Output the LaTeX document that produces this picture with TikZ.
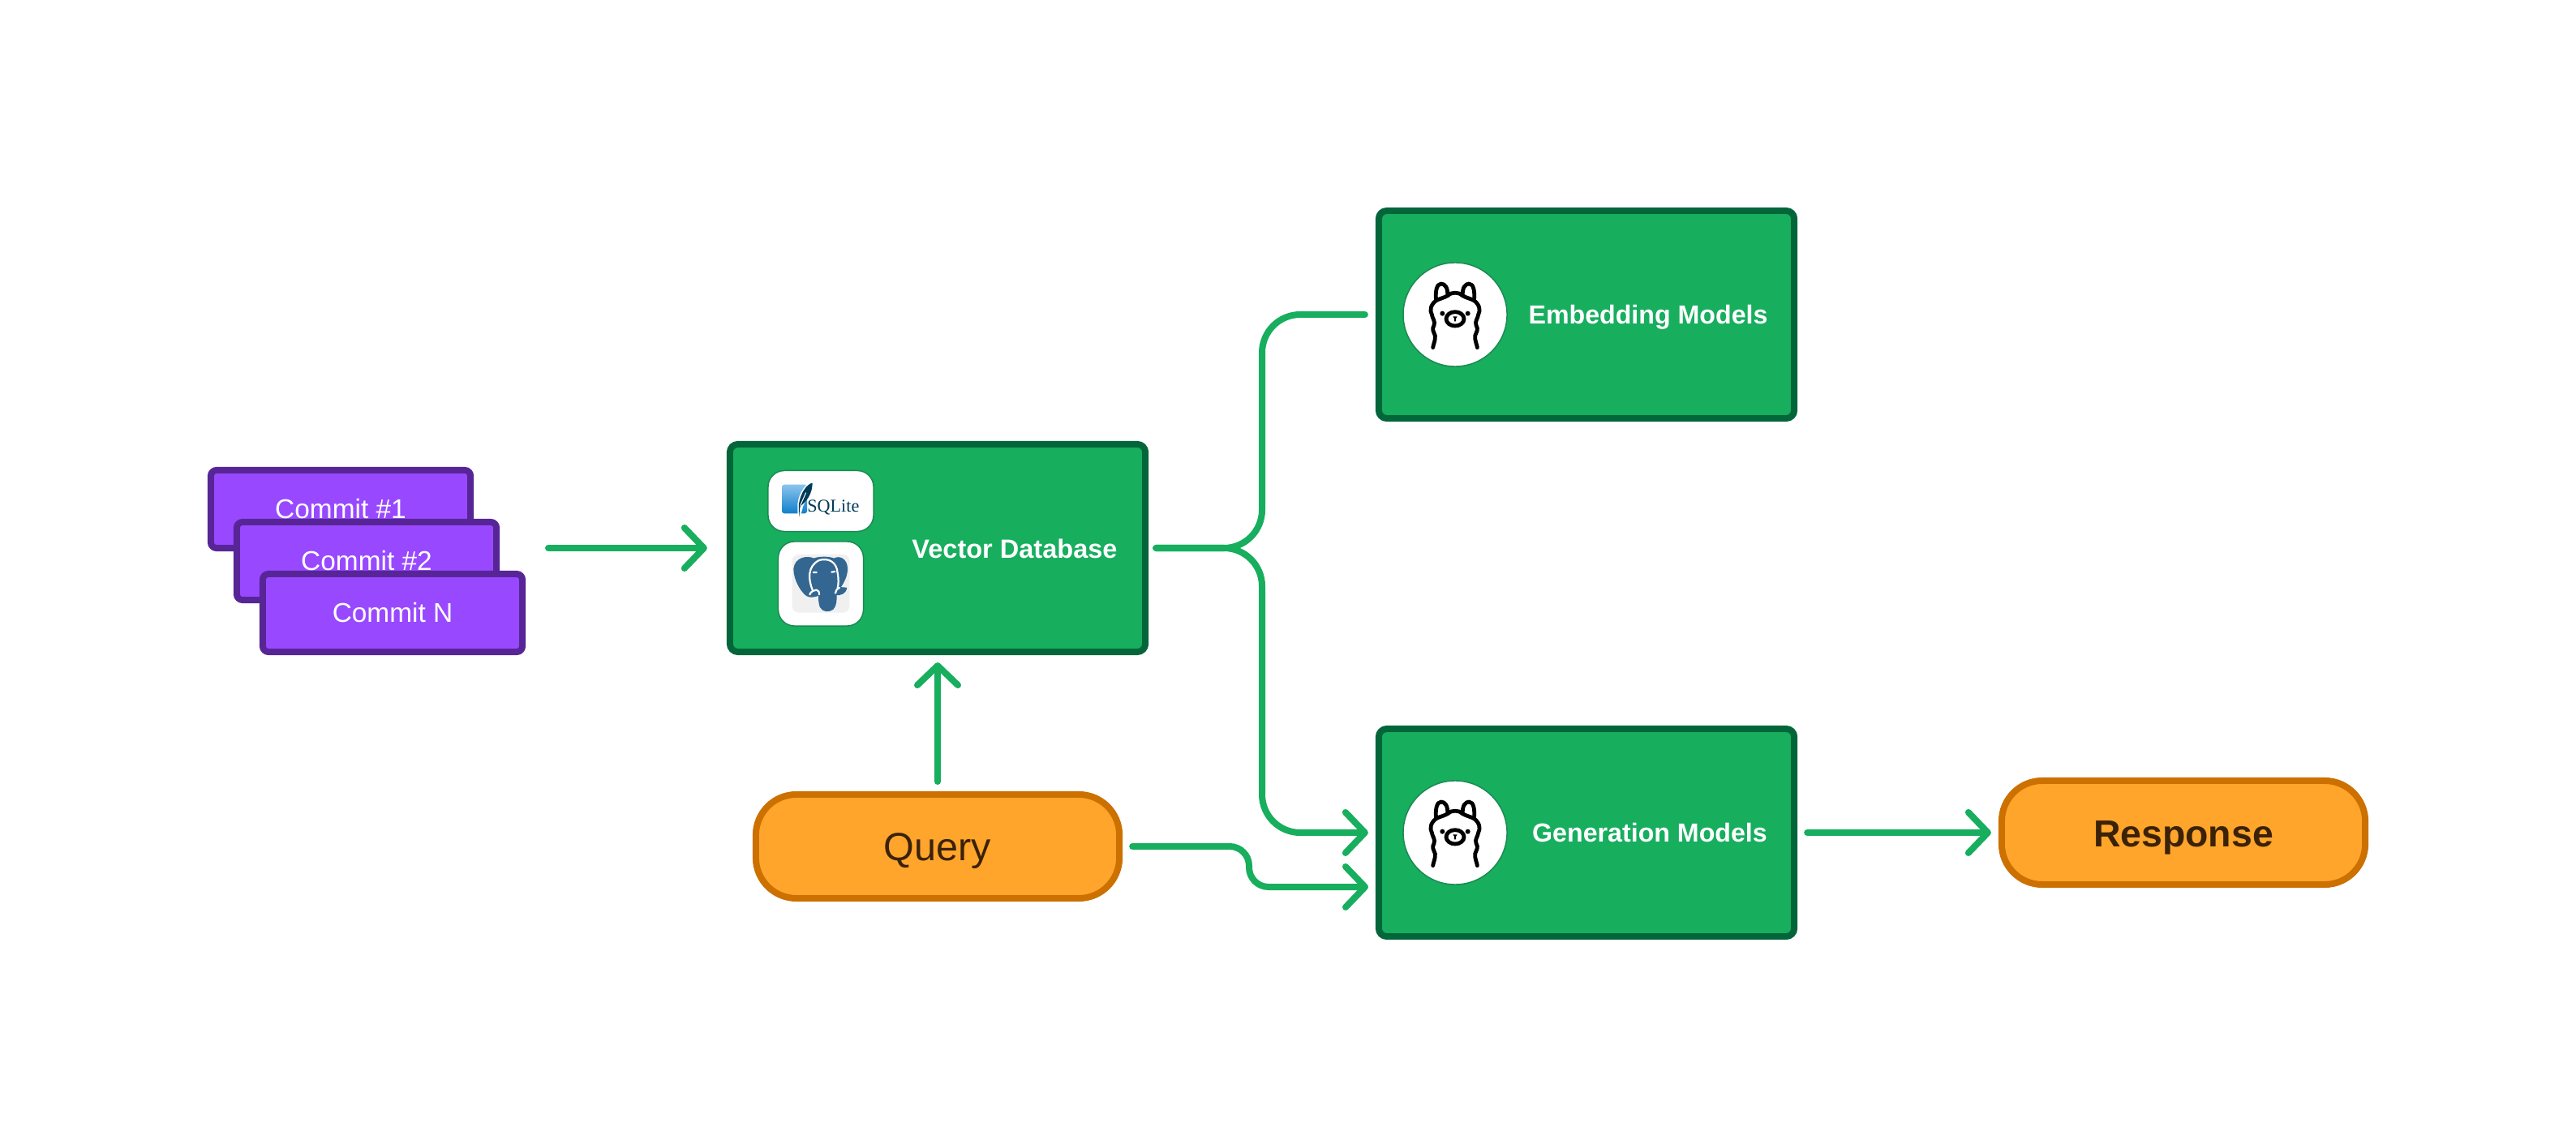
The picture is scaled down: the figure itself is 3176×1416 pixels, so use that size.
\documentclass[tikz,border=0pt]{standalone}
\usepackage{fontspec}
\setmainfont{Liberation Sans}
\newfontfamily\logofont{Liberation Serif}
\usetikzlibrary{arrows.meta}
\definecolor{flowgreen}{HTML}{17AE5E}
\definecolor{boxgreen}{HTML}{17AE5E}
\definecolor{edgegreen}{HTML}{03663A}
\definecolor{logoedge}{HTML}{1C8A52}
\definecolor{commitfill}{HTML}{9849FF}
\definecolor{commitedge}{HTML}{582597}
\definecolor{pillfill}{HTML}{FFA52B}
\definecolor{pilledge}{HTML}{CC7000}
\definecolor{pilltext}{HTML}{3B2207}
\definecolor{sqlnavy}{HTML}{003B57}
\definecolor{sqltop}{HTML}{8CC4EE}
\definecolor{sqlbot}{HTML}{0F80CC}
\definecolor{pgblue}{HTML}{336791}
\tikzset{
  commit/.style={draw=commitedge,fill=commitfill,line width=0.08cm,rounded corners=0.07cm,
    minimum width=3.20cm,minimum height=0.96cm,text=white,text height=6.8pt,text depth=0pt,
    font=\fontsize{9.5pt}{11pt}\selectfont},
  store/.style={draw=edgegreen,fill=boxgreen,line width=0.08cm,rounded corners=0.1cm,
    minimum width=5.12cm,minimum height=2.56cm},
  boxlabel/.style={text=white,text height=6.8pt,text depth=0pt,inner sep=0pt,
    font=\fontsize{9.15pt}{11pt}\selectfont\bfseries},
  pill/.style={draw=pilledge,fill=pillfill,line width=0.08cm,rounded corners=0.5cm,
    minimum width=4.48cm,minimum height=1.28cm,text=pilltext,text height=10pt,text depth=0pt},
  logobox/.style={draw=logoedge,fill=white,line width=0.015cm,rounded corners=0.2cm},
  flow/.style={draw=flowgreen,line width=0.08cm,line cap=round,shorten <=0.12cm,shorten >=0.09cm},
  llama/.pic={
    \begin{scope}[scale=1/3,line width=0.048cm,line cap=round,line join=round]
    \foreach \s in {1,-1} {
      \draw[xscale=\s] (-28,-70) .. controls (-26,-100) and (-38,-114) .. (-52,-114)
        .. controls (-68,-114) and (-74,-85) .. (-70,-52)
        .. controls (-92,-35) and (-94,-15) .. (-86,0)
        .. controls (-84,15) and (-72,25) .. (-78,40)
        .. controls (-88,55) and (-78,65) .. (-74,78)
        .. controls (-72,95) and (-80,108) .. (-82,122);
      \draw[xscale=\s] (-70,-52) .. controls (-55,-60) and (-40,-62) .. (-28,-70);
      \fill[xscale=\s] (-47,-4) circle (9);
    }
    \draw (-28,-70) .. controls (-15,-84) and (15,-84) .. (28,-70);
    \draw (0,16) ellipse (33 and 26);
    \fill (-8,7) -- (8,7) -- (3,15) -- (3,25) -- (-3,25) -- (-3,15) -- cycle;
    \end{scope}
  }
}
\begin{document}
\begin{tikzpicture}[x=0.01cm,y=-0.01cm,>={Straight Barb[length=0.24cm,width=0.5cm,round]}]
\useasboundingbox (0,0) rectangle (3176,1416);
\node [commit] (commit1) at (420,628) {Commit \#1};
\node [commit] (commit2) at (452,692) {Commit \#2};
\node [commit] (commitN) at (484,756) {Commit N};
\node [store] (vdb) at (1156,676) {};
\node [store] (emb) at (1956,388) {};
\node [store] (gen) at (1956,1027) {};
\node [pill,font=\fontsize{13.8pt}{16pt}\selectfont] (query) at (1156,1044) {Query};
\node [pill,font=\fontsize{13.2pt}{16pt}\selectfont\bfseries] (resp) at (2692,1027) {Response};
\node [boxlabel,font=\fontsize{9.25pt}{11pt}\selectfont\bfseries] (vdblabel) at (1251,677) {Vector Database};
\node [boxlabel] (emblabel) at (2032,388) {Embedding Models};
\node [boxlabel] (genlabel) at (2034,1027) {Generation Models};
\node [logobox,minimum width=1.30cm,minimum height=0.75cm] (sqlbox) at (1012,618) {};
\node [logobox,minimum width=1.05cm,minimum height=1.04cm] (pgbox) at (1012,720) {};
\node [circle,draw=logoedge,fill=white,line width=0.015cm,minimum size=1.28cm] (embicon) at (1794,388) {};
\node [circle,draw=logoedge,fill=white,line width=0.015cm,minimum size=1.28cm] (genicon) at (1794,1027) {};
\pic at (embicon) {llama};
\pic at (genicon) {llama};
\begin{scope}[shift={(950,575)},scale=1/3]
\shade [top color=sqltop,bottom color=sqlbot,rounded corners=0.03cm]
  (42,68) rectangle (135,175);
\fill [white] (158,58) .. controls (130,60) and (104,100) .. (100,140) -- (100,180) -- (112,180) -- (120,150) -- cycle;
\fill [sqlnavy] (155,62) .. controls (135,65) and (110,100) .. (105,140)
  .. controls (104,160) and (104,175) .. (107,188) .. controls (107,170) and (107,160) .. (110,148)
  .. controls (135,130) and (155,100) .. (155,62) -- cycle;
\draw [white,line width=0.01cm] (131,98) -- (110,146);
\node [text=sqlnavy,inner sep=0pt,font=\logofont\fontsize{6.3pt}{7pt}\selectfont] (sqltext) at (232,153) {SQLite};
\end{scope}
\begin{scope}[shift={(960,665)},scale=1/3]
\fill [gray!12,rounded corners=0.08cm] (50,57) rectangle (262,272);
\filldraw [fill=pgblue,draw=pgblue,line width=0.02cm,line join=round]
  (58,110) .. controls (62,70) and (105,62) .. (130,74) .. controls (150,66) and (185,66) .. (205,74)
  .. controls (225,62) and (252,75) .. (252,110) .. controls (252,135) and (240,160) .. (225,180)
  -- (250,182) .. controls (245,200) and (230,205) .. (212,205) .. controls (212,225) and (212,245) .. (200,258)
  .. controls (185,268) and (165,268) .. (155,250) .. controls (150,235) and (150,220) .. (150,205)
  .. controls (135,212) and (115,215) .. (105,208) .. controls (85,195) and (58,150) .. (58,110) -- cycle;
\draw [white,line width=0.022cm,line join=round,line cap=round]
  (125,188) .. controls (110,150) and (105,100) .. (150,78) .. controls (185,68) and (215,85) .. (218,125)
  .. controls (222,150) and (222,165) .. (218,180)
  (225,180) .. controls (215,185) and (210,190) .. (210,200)
  (150,205) .. controls (150,195) and (148,190) .. (140,188) .. controls (128,190) and (118,195) .. (115,205)
  (128,123) -- (140,123) (196,122) -- (208,120);
\end{scope}
\coordinate (stackout) at (676,676);
\coordinate (bus) at (1556,676);
\coordinate (step) at (1540,1044);
\coordinate (genin) at (1696,1094);
\draw [flow,->,shorten <=0pt,shorten >=0.24cm] (stackout) -- (vdb.west);
\draw [flow,->] (query.north) -- (query.north |- vdb.south);
\draw [flow,rounded corners=0.47cm,shorten <=0.09cm,shorten >=0.13cm] (vdb.east) -- (bus) -- (bus |- emb.west) -- (emb.west);
\draw [flow,->,rounded corners=0.47cm,shorten <=0.09cm] (vdb.east) -- (bus) -- (bus |- gen.west) -- (gen.west);
\draw [flow,->,rounded corners=0.24cm] (query.east) -- (step) -- (step |- genin) -- (genin);
\draw [flow,->] (gen.east) -- (resp.west);
\end{tikzpicture}
\end{document}
